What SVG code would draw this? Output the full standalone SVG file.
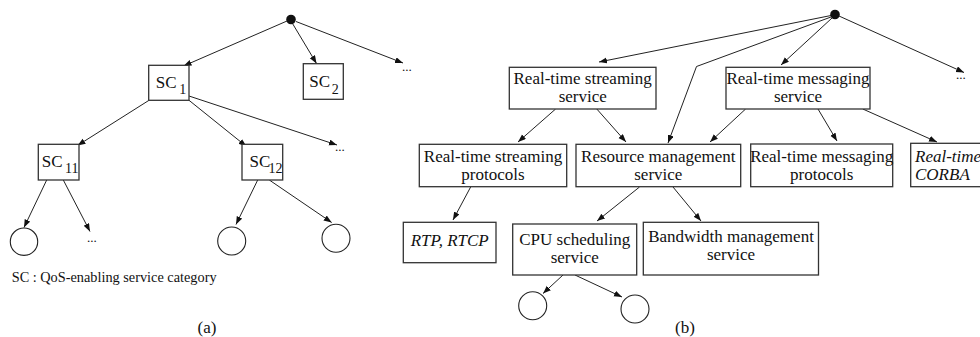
<svg xmlns="http://www.w3.org/2000/svg" width="980" height="337" viewBox="0 0 980 337">
  <defs>
    <marker id="arrow" markerUnits="userSpaceOnUse" markerWidth="9" markerHeight="7" refX="8" refY="3" orient="auto">
      <path d="M0,0 L8,3 L0,6 z" fill="#111"/>
    </marker>
    <style>
      .box { fill: #fff; stroke: #333; stroke-width: 1.3; }
      .leaf { fill: #fff; stroke: #222; stroke-width: 1.1; }
      .edge { fill: none; stroke: #222; stroke-width: 1; marker-end: url(#arrow); }
      .t { font-family: "Liberation Serif", "Times New Roman", serif; font-size: 17px; fill: #111; }
      .c { text-anchor: middle; }
      .sub { font-size: 14px; }
      .it { font-style: italic; }
      .sm { font-family: "Liberation Serif", "Times New Roman", serif; font-size: 14.3px; fill: #111; }
      .dots { font-family: "Liberation Serif", "Times New Roman", serif; font-size: 13px; fill: #111; }
    </style>
  </defs>

  <!-- (a) generic service category tree -->
  <g id="connectors-a">
    <path class="edge" d="M287,21 L183.5,66"/>
    <path class="edge" d="M292.5,23.5 L316.5,63.5"/>
    <path class="edge" d="M296,21.5 L403,63"/>
    <path class="edge" d="M149,100.3 L77.5,145.5"/>
    <path class="edge" d="M189,100.3 L246.5,146.5"/>
    <path class="edge" d="M189,96 L337,145"/>
    <path class="edge" d="M46.7,180 L24,227.5"/>
    <path class="edge" d="M63.3,180 L90,231.5"/>
    <path class="edge" d="M257.7,180 L236,224.5"/>
    <path class="edge" d="M269.3,180 L331.7,222.5"/>
  </g>

  <g id="root-a"><circle cx="291" cy="19.5" r="4.8" fill="#111"/></g>

  <g id="sc1">
    <rect class="box" x="148.7" y="65.3" width="40.3" height="35"/>
    <text class="t" x="155.7" y="88.3">SC</text><text class="t sub" x="179.3" y="94.3">1</text>
  </g>
  <g id="sc2">
    <rect class="box" x="303.3" y="63.7" width="40" height="35.6"/>
    <text class="t" x="309.3" y="87.3">SC</text><text class="t sub" x="331.7" y="94.3">2</text>
  </g>
  <g id="sc11">
    <rect class="box" x="38.3" y="144.3" width="40.7" height="35.7"/>
    <text class="t" x="41.7" y="166.7">SC</text><text class="t sub" x="65" y="173.3">11</text>
  </g>
  <g id="sc12">
    <rect class="box" x="242" y="144.3" width="40.7" height="35.7"/>
    <text class="t" x="249.5" y="166.7">SC</text><text class="t sub" x="268.5" y="173.3">12</text>
  </g>

  <g id="more-a">
    <text class="dots" x="402" y="71">...</text>
    <text class="dots" x="335" y="151">...</text>
    <text class="dots" x="87" y="242">...</text>
  </g>

  <g id="leaves-a">
    <circle class="leaf" cx="24" cy="241.7" r="13.7"/>
    <circle class="leaf" cx="231.7" cy="241" r="14"/>
    <circle class="leaf" cx="336" cy="238.3" r="14"/>
  </g>

  <g id="legend-a">
    <text class="sm" x="11.7" y="282">SC : QoS-enabling service category</text>
    <text class="t c" x="207" y="333">(a)</text>
  </g>

  <!-- (b) real-time service tree -->
  <g id="connectors-b">
    <path class="edge" d="M831,15.5 L599,62"/>
    <path class="edge" d="M831,17 L696.5,66.5 L668,143"/>
    <path class="edge" d="M832,18 L781,65"/>
    <path class="edge" d="M839,16 L964,72.5"/>
    <path class="edge" d="M555.6,109 L518,142"/>
    <path class="edge" d="M596.8,109 L626,142"/>
    <path class="edge" d="M745.6,109 L710,142"/>
    <path class="edge" d="M818,109 L837,141"/>
    <path class="edge" d="M862.8,109 L937,142"/>
    <path class="edge" d="M470.8,186.7 L453,220"/>
    <path class="edge" d="M639.5,187 L597,221"/>
    <path class="edge" d="M673,187 L701,221"/>
    <path class="edge" d="M563,275 L543,293.5"/>
    <path class="edge" d="M575,275 L622,297"/>
  </g>

  <g id="root-b"><circle cx="835" cy="14.5" r="4.8" fill="#111"/></g>

  <g id="rt-streaming-service">
    <rect class="box" x="509.3" y="67.3" width="146.7" height="41.7"/>
    <text class="t c" x="582.7" y="84.3">Real-time streaming</text>
    <text class="t c" x="582.7" y="102.3">service</text>
  </g>
  <g id="rt-messaging-service">
    <rect class="box" x="726" y="67.3" width="144" height="41.7"/>
    <text class="t c" x="798" y="84.3">Real-time messaging</text>
    <text class="t c" x="798" y="102.3">service</text>
  </g>
  <g id="rt-streaming-protocols">
    <rect class="box" x="419.3" y="144.3" width="147.4" height="42.4"/>
    <text class="t c" x="493" y="161.7">Real-time streaming</text>
    <text class="t c" x="493" y="179.5">protocols</text>
  </g>
  <g id="resource-management">
    <rect class="box" x="576" y="144.3" width="164.7" height="42.4"/>
    <text class="t c" x="658.3" y="161.7">Resource management</text>
    <text class="t c" x="658.3" y="179.5">service</text>
  </g>
  <g id="rt-messaging-protocols">
    <rect class="box" x="750.7" y="144" width="142" height="42.7"/>
    <text class="t c" x="821.7" y="161.7">Real-time messaging</text>
    <text class="t c" x="821.7" y="179.5">protocols</text>
  </g>
  <g id="rt-corba">
    <rect class="box" x="910.7" y="143.3" width="80" height="43.4"/>
    <text class="t it" x="915" y="161.7">Real-time</text>
    <text class="t it" x="915" y="179.5">CORBA</text>
  </g>
  <g id="rtp-rtcp">
    <rect class="box" x="403.3" y="222.3" width="92.7" height="40.4"/>
    <text class="t c it" x="449.7" y="246">RTP, RTCP</text>
  </g>
  <g id="cpu-scheduling">
    <rect class="box" x="512.7" y="224" width="124" height="51"/>
    <text class="t c" x="574.7" y="245">CPU scheduling</text>
    <text class="t c" x="574.7" y="263.3">service</text>
  </g>
  <g id="bandwidth-management">
    <rect class="box" x="643.3" y="222.3" width="175.2" height="52.7"/>
    <text class="t c" x="731" y="241.7">Bandwidth management</text>
    <text class="t c" x="731" y="260">service</text>
  </g>

  <g id="more-b"><text class="dots" x="956" y="79">...</text></g>

  <g id="leaves-b">
    <circle class="leaf" cx="532.7" cy="305.7" r="14"/>
    <circle class="leaf" cx="635" cy="309" r="14"/>
  </g>

  <g id="label-b"><text class="t c" x="685" y="333">(b)</text></g>
</svg>
